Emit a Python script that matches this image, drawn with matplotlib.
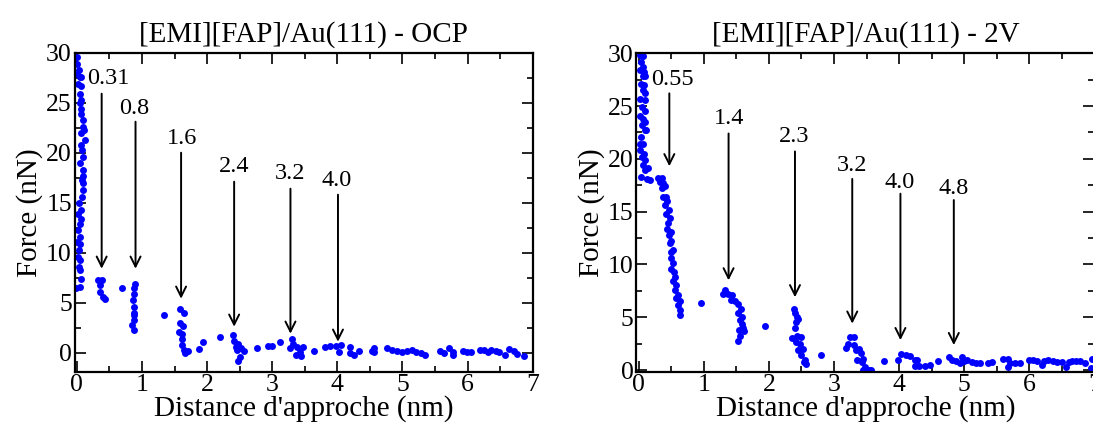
import numpy as np
import matplotlib.pyplot as plt

plt.rcParams['font.family'] = ['Liberation Serif', 'DejaVu Serif']

# OCP curve (left panel)
ocp_x = [0.00, 0.00, 0.03, 0.00, 0.04, 0.06, 0.02, 0.06, 0.05, 0.07, 0.04, 0.06, 0.07, 0.09,
         0.10, 0.11, 0.07, 0.12, 0.07, 0.08, 0.10, 0.05, 0.09, 0.10, 0.08, 0.09, 0.10, 0.08,
         0.03, 0.06, 0.02, 0.07, 0.04, 0.02, 0.04, 0.00, 0.04, 0.03, 0.02, 0.05, 0.03, 0.04,
         0.06, 0.04, -0.01,
         0.32, 0.38, 0.35, 0.35, 0.40, 0.43,
         0.69,
         0.89, 0.88, 0.87, 0.86, 0.87, 0.88, 0.88, 0.87, 0.84, 0.88,
         1.33,
         1.58, 1.65, 1.58, 1.63, 1.57, 1.62, 1.61, 1.62, 1.64, 1.66, 1.70,
         1.88, 1.93, 2.20,
         2.40, 2.42, 2.47, 2.45, 2.52, 2.46, 2.56, 2.50, 2.47,
         2.76, 2.94, 2.99, 3.12,
         3.30, 3.27, 3.32, 3.38, 3.42, 3.37, 3.44, 3.48, 3.64,
         3.81, 3.89, 3.98, 4.06, 4.02, 4.19, 4.20, 4.26, 4.33,
         4.53, 4.56, 4.57,
         4.76, 4.84, 4.92, 5.00, 5.07, 5.14, 5.21, 5.28, 5.34,
         5.57, 5.64, 5.72, 5.77, 5.77, 5.93, 5.99, 6.06,
         6.19, 6.25, 6.31, 6.36, 6.43, 6.48, 6.57, 6.64, 6.71, 6.76, 6.86]
ocp_y = [29.6, 28.9, 28.3, 27.9, 27.6, 27.6, 26.9, 26.7, 25.9, 25.3, 25.0, 24.4, 23.9, 23.3,
         22.6, 22.3, 22.0, 21.3, 20.8, 20.3, 19.6, 19.0, 18.3, 17.7, 17.3, 17.0, 16.3, 15.6,
         15.0, 14.3, 13.9, 13.4, 12.9, 12.3, 11.6, 11.1, 10.9, 10.3, 9.6, 9.3, 8.6, 8.3,
         7.4, 6.6, 6.5,
         7.3, 7.3, 6.8, 6.1, 5.6, 5.4,
         6.5,
         6.9, 6.5, 5.9, 5.3, 4.6, 4.0, 3.8, 3.3, 2.8, 2.3,
         3.8,
         4.4, 4.0, 3.0, 2.7, 2.1, 1.9, 1.4, 0.8, 0.3, 0.0, 0.2,
         0.4, 1.1, 1.6,
         1.8, 1.2, 0.85, 0.6, 0.45, 0.3, 0.2, -0.4, -0.85,
         0.5, 0.7, 0.7, 1.05,
         1.4, 0.45, 0.9, 0.6, 0.1, -0.2, -0.3, 0.6, 0.2,
         0.55, 0.7, 0.65, 0.75, 0.05, 0.6, 0.0, -0.2, 0.2,
         0.2, 0.45, 0.05,
         0.5, 0.3, 0.2, 0.1, 0.2, 0.3, 0.05, -0.05, -0.2,
         0.2, -0.05, 0.5, 0.05, -0.2, 0.2, 0.1, 0.05,
         0.3, 0.3, 0.05, 0.25, 0.2, 0.05, -0.2, 0.35, 0.2, -0.1, -0.3]

# 2V curve (right panel)
v2_x = [0.015, 0.06, 0.04, 0.07, 0.02, 0.08, 0.06, 0.09, 0.04, 0.08, 0.06, 0.09, 0.02, 0.09,
        0.05, 0.09, 0.015, 0.06, 0.09, 0.05, 0.11, 0.09, 0.04, 0.015, 0.06, 0.02, 0.08, 0.05,
        0.09, 0.06, 0.14, 0.09, 0.04, 0.12, 0.18,
        0.30, 0.35, 0.33, 0.37, 0.35, 0.40, 0.42, 0.37, 0.435, 0.40, 0.47, 0.42, 0.48, 0.45,
        0.435, 0.49, 0.47, 0.50, 0.48, 0.52, 0.49, 0.50, 0.53, 0.50, 0.54, 0.55, 0.53, 0.58,
        0.55, 0.605, 0.58, 0.63, 0.605, 0.63, 0.64,
        0.96,
        1.32, 1.30, 1.37, 1.43, 1.41, 1.48, 1.52, 1.57, 1.53, 1.59, 1.56, 1.58, 1.54, 1.61,
        1.55, 1.52, 1.60,
        1.94,
        2.39, 2.40, 2.43, 2.45, 2.41, 2.40, 2.36, 2.43, 2.50, 2.42, 2.48, 2.45, 2.52, 2.49,
        2.55, 2.54, 2.57,
        2.80,
        3.18, 3.22, 3.25, 3.30, 3.30, 3.33, 3.39, 3.41, 3.36, 3.44, 3.43, 3.48, 3.44, 3.53, 3.57,
        3.77, 3.99, 4.03, 4.11, 4.17, 4.25, 4.28, 4.25, 4.30, 4.40, 4.47, 4.60,
        4.76, 4.81, 4.88, 4.96, 4.99, 4.93, 5.05, 5.12, 5.18, 5.24,
        5.37, 5.42, 5.59, 5.67, 5.68, 5.71, 5.78, 5.85,
        5.99, 6.05, 6.12, 6.19, 6.23, 6.29, 6.36, 6.43, 6.50, 6.57, 6.61, 6.66, 6.72, 6.78,
        6.86, 6.96, 6.95]
v2_y = [29.8, 29.7, 29.2, 28.7, 28.4, 28.2, 27.8, 27.8, 27.1, 27.0, 26.5, 26.2, 25.7, 25.6,
        24.9, 24.5, 24.1, 23.8, 23.5, 23.2, 22.7, 22.7, 22.1, 21.4, 21.4, 20.8, 20.5, 20.2,
        19.9, 19.4, 19.1, 18.9, 18.3, 18.1, 18.0,
        18.2, 18.15, 17.8, 17.7, 17.2, 17.4, 16.4, 16.4, 16.0, 15.6, 15.2, 14.8, 14.4, 13.9,
        13.4, 13.1, 12.8, 12.2, 12.0, 11.4, 11.2, 10.6, 10.1, 9.6, 9.3, 8.8, 8.4, 8.1,
        7.6, 7.1, 6.8, 6.5, 6.2, 5.7, 5.2,
        6.4,
        7.6, 7.2, 7.2, 7.1, 6.6, 6.5, 6.3, 5.8, 5.4, 5.0, 4.7, 4.4, 3.8, 3.7,
        3.2, 2.8, 4.0,
        4.2,
        5.8, 5.4, 5.05, 4.8, 4.6, 4.0, 3.0, 3.2, 3.1, 2.7, 2.5, 1.9, 2.0, 1.4,
        1.0, 0.8, 0.6,
        1.45,
        2.1, 2.5, 3.1, 3.1, 2.4, 1.9, 2.0, 1.6, 1.0, 1.1, 0.8, 0.3, 0.0, 0.05, 0.0,
        0.85, 1.0, 1.5, 1.45, 1.3, 1.0, 1.0, 0.4, 0.4, 0.43, 0.5, 0.9,
        1.2, 1.0, 0.88, 1.2, 0.88, 0.7, 1.0, 0.8, 0.7, 0.63,
        0.7, 0.78, 1.1, 1.1, 0.26, 0.7, 0.63, 0.63,
        0.95, 0.95, 0.88, 0.47, 0.9, 1.0, 0.9, 0.8, 0.8, 0.32, 0.8, 0.9, 0.9, 0.9,
        0.63, 1.1, 0.16]

# annotations: label, arrow x, arrow top, arrow tip, text x, text y
ocp_labels = ['0.31', '0.8', '1.6', '2.4', '3.2', '4.0']
ocp_arrow_x = [0.38, 0.90, 1.60, 2.415, 3.28, 4.01]
ocp_arrow_top = [25.9, 23.1, 20.0, 17.1, 16.4, 15.8]
ocp_arrow_tip = [8.4, 8.4, 5.4, 2.6, 1.9, 1.1]
ocp_text_x = [0.48, 0.88, 1.61, 2.41, 3.27, 3.99]
ocp_text_y = [27.4, 24.4, 21.4, 18.6, 17.9, 17.2]

v2_labels = ['0.55', '1.4', '2.3', '3.2', '4.0', '4.8']
v2_arrow_x = [0.47, 1.38, 2.40, 3.28, 4.02, 4.84]
v2_arrow_top = [26.2, 22.4, 20.7, 18.1, 16.7, 16.1]
v2_arrow_tip = [19.3, 8.5, 6.9, 4.4, 2.84, 2.37]
v2_text_x = [0.52, 1.38, 2.39, 3.28, 4.01, 4.83]
v2_text_y = [27.5, 23.8, 22.1, 19.4, 17.8, 17.2]


def panel(ax, x, y, labels, ax_x, ax_top, ax_tip, tx, ty, title, ylim):
    ax.plot(x, y, 'o', color='#0000ff', ms=5, mec='none')
    for lab, a, t0, t1, xx, yy in zip(labels, ax_x, ax_top, ax_tip, tx, ty):
        ax.annotate('', xy=(a, t1), xytext=(a, t0),
                    arrowprops=dict(arrowstyle='->', lw=1.4, color='black',
                                    shrinkA=0, shrinkB=0, mutation_scale=18))
        ax.text(xx, yy, lab, ha='center', va='center', fontsize=17.5)
    ax.set_xlim(-0.035, 7.0)
    ax.set_ylim(*ylim)
    ax.set_xticks(np.arange(0, 8, 1))
    ax.set_xticks(np.arange(0, 7.01, 0.5), minor=True)
    ax.set_yticks(np.arange(0, 31, 5))
    ax.set_yticks(np.arange(0, 30.01, 2.5), minor=True)
    ax.tick_params(which='both', direction='in', top=True, right=True, labelsize=18.5, width=1.2)
    ax.tick_params(which='major', length=8, pad=2)
    ax.tick_params(which='minor', length=4)
    for s in ax.spines.values():
        s.set_linewidth(1.6)
    ax.set_title(title, fontsize=21, pad=8)
    ax.set_xlabel("Distance d'approche (nm)", fontsize=21, labelpad=-1)
    ax.set_ylabel('Force (nN)', fontsize=21, labelpad=2)


fig = plt.figure(figsize=(10.93, 4.25), dpi=100)
ax1 = fig.add_axes([0.0683, 0.1254, 0.4190, 0.7506])
ax2 = fig.add_axes([0.5823, 0.1254, 0.4190, 0.7506])
panel(ax1, ocp_x, ocp_y, ocp_labels, ocp_arrow_x, ocp_arrow_top, ocp_arrow_tip,
      ocp_text_x, ocp_text_y, '[EMI][FAP]/Au(111) - OCP', (-1.9, 30))
panel(ax2, v2_x, v2_y, v2_labels, v2_arrow_x, v2_arrow_top, v2_arrow_tip,
      v2_text_x, v2_text_y, '[EMI][FAP]/Au(111) - 2V', (-0.15, 30.05))
plt.savefig('out.png', dpi=100)
